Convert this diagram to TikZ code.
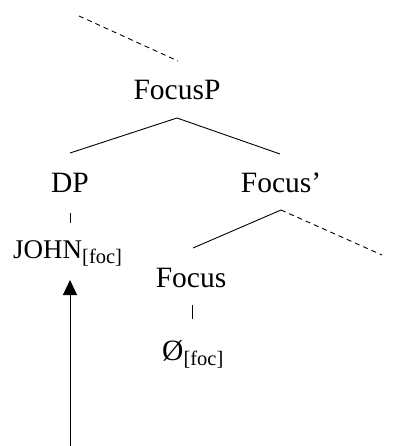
\documentclass[tikz,border=0pt]{standalone}
\usepackage{fontspec}
\setmainfont{Liberation Serif}
\usetikzlibrary{arrows.meta}
\tikzset{
  lbl/.style={inner sep=0pt, font=\fontsize{29.5}{34}\selectfont},
  small lbl/.style={inner sep=0pt, font=\fontsize{27}{32}\selectfont},
  branch/.style={line width=0.9pt},
  hidden/.style={line width=0.9pt, dash pattern=on 5pt off 4pt},
  movearrow/.style={line width=1pt, -{Triangle[width=14pt,length=15pt]}}
}
\newcommand{\feat}[1]{\textsubscript{\fontsize{20.5}{24}\selectfont[#1]}}
\begin{document}
\begin{tikzpicture}[x=1pt,y=-1pt]
  \useasboundingbox (0,0) rectangle (408,446);

  % labels
  \node[lbl, anchor=base] (fp) at (177,100) {FocusP};
  \node[lbl, anchor=base] (dp) at (70,193) {DP};
  \node[lbl, anchor=base] (fbar) at (281,193) {Focus’};
  \node[small lbl, anchor=base west] (john) at (13,258) {JOHN\feat{foc}};
  \node[lbl, anchor=base] (f0) at (191,287) {Focus};
  \node[lbl, anchor=base west] (null) at (162,360) {Ø\feat{foc}};

  % branch end points
  \coordinate (up) at (79,16);
  \coordinate (fpTop) at (178,61);
  \coordinate (fpBot) at (177,118);
  \coordinate (dpTop) at (70,153);
  \coordinate (fbarTop) at (280,154);
  \coordinate (fbarBot) at (281,210);
  \coordinate (f0Top) at (193,248);
  \coordinate (compl) at (382,255);
  \coordinate (dpBot) at (70,213);
  \coordinate (johnTop) at (70,223);
  \coordinate (f0Bot) at (192,305);
  \coordinate (nullTop) at (192,319);
  \coordinate (trace) at (70,446);
  \coordinate (landing) at (70,280);

  % tree
  \draw[hidden] (up) -- (fpTop);
  \draw[branch] (dpTop) -- (fpBot) -- (fbarTop);
  \draw[branch] (f0Top) -- (fbarBot);
  \draw[hidden] (fbarBot) -- (compl);
  \draw[branch] (dpBot) -- (johnTop);
  \draw[branch] (f0Bot) -- (nullTop);

  % movement
  \draw[movearrow] (trace) -- (landing);
\end{tikzpicture}
\end{document}
